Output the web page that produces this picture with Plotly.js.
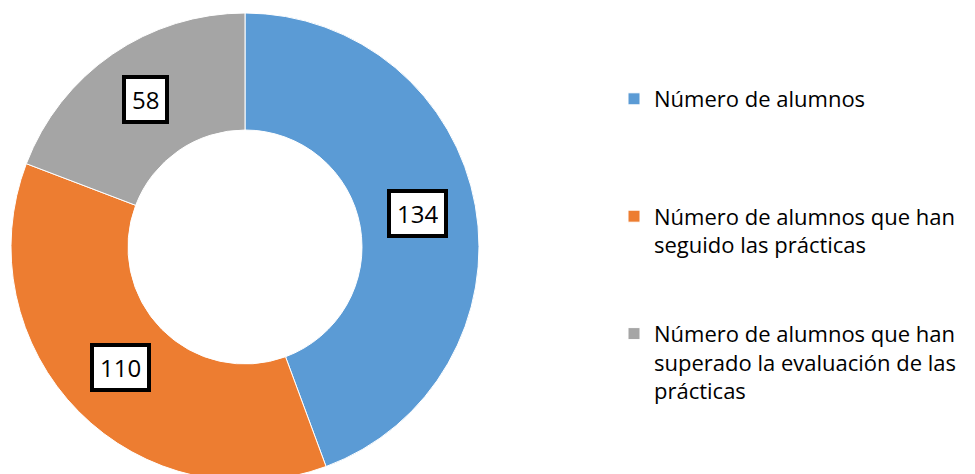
<!DOCTYPE html>
<html><head><meta charset="utf-8">
<script src="https://cdn.plot.ly/plotly-3.0.1.min.js"></script>
<style>html,body{margin:0;padding:0;overflow:hidden;background:#fff}</style>
</head><body><div id="chart" style="width:975px;height:490px"></div>
<script>
const labels = ["Número de alumnos", "Número de alumnos que han<br>seguido las prácticas", "Número de alumnos que han<br>superado la evaluación de las<br>prácticas"];
const values = [134, 110, 58];
const colors = ["#5B9BD5", "#ED7D31", "#A5A5A5"];

const W = 975, H = 490, mt = 13, mb = 9;
const plotH = H - mt - mb;
const hole = 0.5;
const dom = [11 / W, 479 / W];

// pad legend entries to equal line counts so entries are evenly spaced
const LINES = 4;
const legendLabels = labels.map(t => {
  let n = t.split('<br>').length;
  let s = t;
  for (let i = n; i < LINES; i++) s += '<br>\u00a0';
  return s;
});

const total = values.reduce((a, b) => a + b, 0);
const R = Math.min((dom[1] - dom[0]) * W, plotH) / 2;
const rm = R * (1 + hole) / 2;
let cum = 0;
const annotations = values.map(v => {
  const mid = (cum + v / 2) / total * 2 * Math.PI;
  cum += v;
  return {
    xref: 'paper', yref: 'paper',
    x: (dom[0] + dom[1]) / 2 + rm * Math.sin(mid) / W,
    y: 0.5 + rm * Math.cos(mid) / plotH,
    xanchor: 'center', yanchor: 'middle', yshift: 3,
    text: String(v), showarrow: false,
    height: 29,
    font: {family: 'Open Sans, sans-serif', size: 24, color: '#000'},
    bgcolor: '#ffffff', bordercolor: '#000000', borderwidth: 4, borderpad: 6
  };
});

const trace = {
  type: 'pie',
  labels: legendLabels,
  values: values,
  hole: hole,
  sort: false,
  direction: 'clockwise',
  rotation: 0,
  textinfo: 'none',
  hoverinfo: 'value',
  marker: {colors: colors, line: {color: '#ffffff', width: 1}},
  domain: {x: dom, y: [0, 1]}
};

const layout = {
  width: W, height: H,
  margin: {l: 0, r: 0, t: mt, b: mb, autoexpand: false},
  paper_bgcolor: '#ffffff',
  showlegend: true,
  legend: {
    x: 614 / W, xanchor: 'left',
    y: 1 - (78 - mt) / plotH, yanchor: 'top',
    valign: 'top',
    font: {family: 'Open Sans, sans-serif', size: 22, color: '#000'},
    bgcolor: 'rgba(0,0,0,0)'
  },
  annotations: annotations
};

Plotly.newPlot('chart', [trace], layout, {displayModeBar: false, staticPlot: true});
</script>
</body></html>
